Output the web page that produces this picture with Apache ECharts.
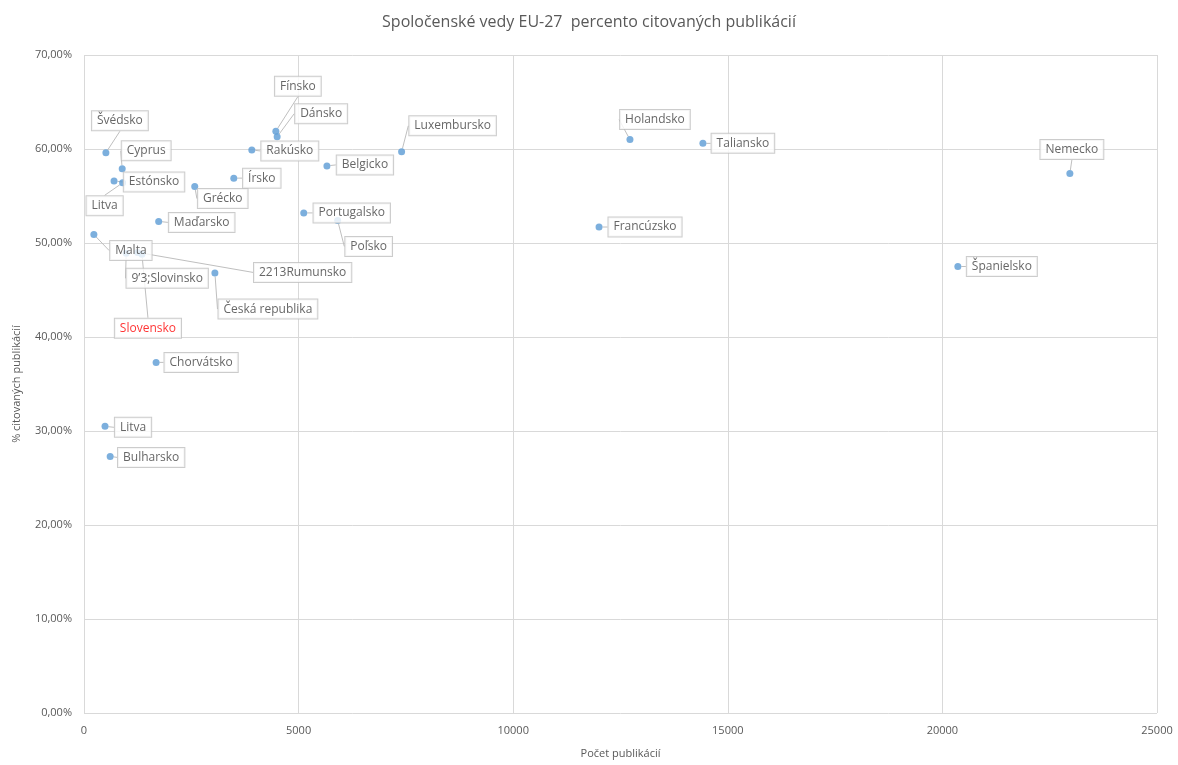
<!DOCTYPE html>
<html>
<head>
<meta charset="utf-8">
<script src="https://cdn.jsdelivr.net/npm/echarts@6/dist/echarts.min.js"></script>
<style>
  html, body { margin: 0; padding: 0; background: #fff; }
  #chart { width: 1178px; height: 765px; }
</style>
</head>
<body>
<div id="chart"></div>
<script>
// Spoločenské vedy EU-27: počet publikácií vs. percento citovaných publikácií
const countries = [
  'Švédsko', 'Cyprus', 'Estónsko', 'Litva', 'Fínsko', 'Dánsko', 'Rakúsko', 'Írsko',
  'Grécko', 'Maďarsko', 'Malta', '9\u20193;Slovinsko', '2213Rumunsko', 'Slovensko',
  'Česká republika', 'Chorvátsko', 'Litva', 'Bulharsko', 'Belgicko', 'Luxembursko',
  'Portugalsko', 'Poľsko', 'Holandsko', 'Taliansko', 'Francúzsko', 'Nemecko', 'Španielsko'
];
const publications = [
  510, 890, 700, 900, 4470, 4500, 3910, 3490,
  2580, 1740, 230, 983, 1250, 1350,
  3050, 1680, 490, 610, 5660, 7400,
  5120, 5910, 12720, 14420, 12000, 22970, 20360
];
const citedPct = [
  59.6, 57.9, 56.6, 56.4, 61.9, 61.3, 59.9, 56.9,
  56.0, 52.3, 50.9, 48.9, 49.0, 48.8,
  46.8, 37.3, 30.5, 27.3, 58.2, 59.7,
  53.2, 52.4, 61.0, 60.6, 51.7, 57.4, 47.5
];
// label box offsets from each point (pixels)
const labelShift = [
  [14, -32], [24, -18], [40, 1], [-18, 23], [22, -45], [44, -23], [38, 1], [28, 0],
  [28, 12], [43, 1], [37, 16], [41, 25], [165, 20], [6, 74],
  [53, 36], [45, 0], [28, 1], [41, 1], [38, -1], [51, -26],
  [48, 0], [31, 26], [25, -20], [40, 0], [46, 0], [2, -24], [44, 0]
];
const highlighted = 'Slovensko';

const xTicks = { min: 0, max: 25000, interval: 5000 };
const yTicks = { min: 0, max: 70, interval: 10 };

const points = countries.map((name, i) => ({
  name: name,
  value: [publications[i], citedPct[i]],
  label: name === highlighted ? { color: '#ff0000' } : undefined
}));

const chart = echarts.init(document.getElementById('chart'), null, { renderer: 'canvas' });
const textColor = '#595959';
const fontFamily = '"Open Sans", "Noto Sans", sans-serif';

chart.setOption({
  animation: false,
  backgroundColor: '#ffffff',
  title: {
    text: 'Spoločenské vedy EU-27  percento citovaných publikácií',
    left: 'center',
    top: 9,
    textStyle: { color: textColor, fontSize: 16, fontWeight: 'normal', fontFamily: fontFamily }
  },
  grid: { left: 84, right: 21, top: 55, bottom: 52, containLabel: false },
  xAxis: {
    type: 'value',
    min: xTicks.min, max: xTicks.max, interval: xTicks.interval,
    name: 'Počet publikácií',
    nameLocation: 'middle',
    nameGap: 35,
    nameTextStyle: { color: textColor, fontSize: 11, fontFamily: fontFamily },
    axisLine: { show: false },
    axisTick: { show: false },
    axisLabel: {
      color: textColor, fontSize: 11, fontFamily: fontFamily, margin: 12,
      formatter: v => String(v)
    },
    splitLine: { show: true, lineStyle: { color: '#d9d9d9', width: 1 } }
  },
  yAxis: {
    type: 'value',
    min: yTicks.min, max: yTicks.max, interval: yTicks.interval,
    name: '% citovaných publikácií',
    nameLocation: 'middle',
    nameGap: 62,
    nameTextStyle: { color: textColor, fontSize: 11, fontFamily: fontFamily },
    axisLine: { show: false },
    axisTick: { show: false },
    axisLabel: {
      color: textColor, fontSize: 11, fontFamily: fontFamily, margin: 12,
      formatter: v => v.toFixed(2).replace('.', ',') + '%'
    },
    splitLine: { show: true, lineStyle: { color: '#d9d9d9', width: 1 } }
  },
  series: [{
    type: 'scatter',
    data: points,
    symbolSize: 7,
    itemStyle: { color: '#5b9bd5' },
    z: 2,
    label: {
      show: true,
      position: 'inside',
      formatter: p => p.name,
      color: '#404040',
      fontSize: 12,
      fontFamily: fontFamily,
      backgroundColor: '#ffffff',
      borderColor: '#bfbfbf',
      borderWidth: 1,
      padding: [4, 5, 3, 5]
    },
    labelLine: {
      show: true,
      lineStyle: { color: '#bfbfbf', width: 1 }
    },
    labelLayout: p => ({ dx: labelShift[p.dataIndex][0], dy: labelShift[p.dataIndex][1] })
  }]
});
</script>
</body>
</html>
